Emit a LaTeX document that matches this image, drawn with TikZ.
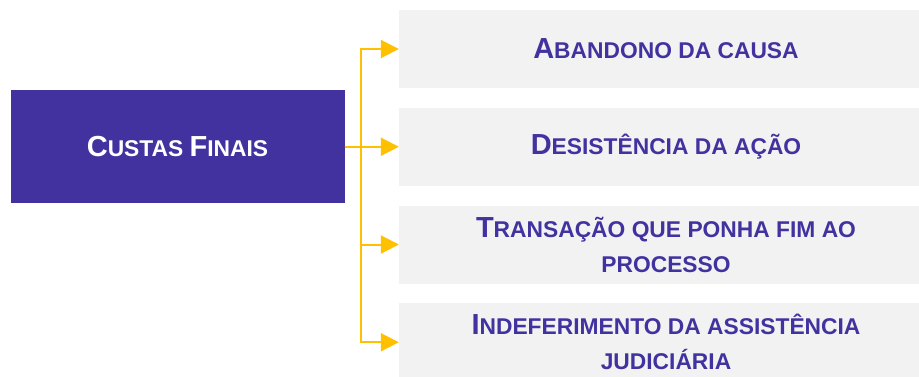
\documentclass[tikz,border=0pt]{standalone}
\usepackage{fontspec}
\setmainfont{Liberation Sans}
\usetikzlibrary{positioning,arrows.meta}
\definecolor{roxo}{HTML}{4232A0}
\definecolor{cinza}{HTML}{F2F2F2}
\definecolor{ouro}{HTML}{FFC000}
% small caps by hand: big first letter, smaller rest
\newcommand{\sck}[2]{{\fontsize{29}{35}\selectfont #1}{\fontsize{22.8}{35}\selectfont #2}}

\begin{document}
\begin{tikzpicture}[x=1pt,y=-1pt,node distance=97.75pt,on grid,
  tema/.style={fill=roxo,text=white,minimum width=334pt,minimum height=113pt,
    font=\bfseries\fontsize{22.8}{35}\selectfont},
  item/.style={fill=cinza,text=roxo,minimum width=534pt,minimum height=78pt,
    align=center,font=\bfseries\fontsize{22.8}{35}\selectfont},
  ramo/.style={draw=ouro,line width=2pt,-{Triangle[length=18pt,width=18pt]}}]
  \clip (0,0) rectangle (919,376);
  \node[tema] (custas) at (177.5,146.5) {\sck{C}{USTAS} \sck{F}{INAIS}};
  \node[item] (abandono) at (666,49) {\sck{A}{BANDONO DA CAUSA}};
  \node[item] (desistencia) [below=of abandono] {\sck{D}{ESISTÊNCIA DA AÇÃO}};
  \node[item] (transacao) [below=of desistencia]
    {\sck{T}{RANSAÇÃO QUE PONHA FIM AO}\\\sck{}{PROCESSO}};
  \node[item] (indeferimento) [below=of transacao]
    {\sck{I}{NDEFERIMENTO DA ASSISTÊNCIA}\\\sck{}{JUDICIÁRIA}};
  \coordinate (hub) at (361,146.5);
  \foreach \alvo in {abandono,desistencia,transacao,indeferimento}
    \draw[ramo] (custas.east) -- (hub) |- (\alvo.west);
\end{tikzpicture}
\end{document}
